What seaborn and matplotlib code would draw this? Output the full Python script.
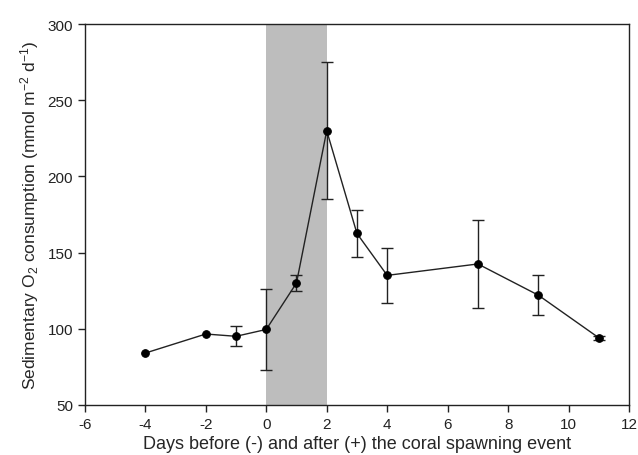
import matplotlib
matplotlib.use("Agg")
import matplotlib.pyplot as plt
import seaborn as sns
import numpy as np
import pandas as pd

# ── Data ────────────────────────────────────────────────────────────────────
days = [-4, -2, -1, 0, 1, 2, 3, 4, 7, 9, 11]
o2_consumption = [84, 96.5, 95, 99.5, 130, 230, 162.5, 135, 142.5, 122, 94]
o2_sd = [0, 0, 6.5, 26.5, 5, 45, 15.5, 18, 29, 13.3, 1.5]
spawning_window = (0, 2)
x_ticks = [-6, -4, -2, 0, 2, 4, 6, 8, 10, 12]
y_ticks = [50, 100, 150, 200, 250, 300]

df = pd.DataFrame({"day": days, "o2": o2_consumption, "sd": o2_sd})

sns.set_theme(style="ticks")
plt.rcParams["font.family"] = ["Liberation Sans", "DejaVu Sans"]
plt.rcParams["mathtext.default"] = "regular"
plt.rcParams["axes.unicode_minus"] = False

fig, ax = plt.subplots(figsize=(6.38, 4.56), dpi=100)
fig.subplots_adjust(left=0.133, right=0.986, bottom=0.11, top=0.945)

ax.axvspan(*spawning_window, color="#bdbdbd", lw=0, zorder=0)

has_err = df["sd"] > 0
ax.errorbar(df.loc[has_err, "day"], df.loc[has_err, "o2"], yerr=df.loc[has_err, "sd"],
            fmt="none", ecolor="#222222", elinewidth=1.0, capsize=4.5, capthick=1.0, zorder=2)
sns.lineplot(data=df, x="day", y="o2", ax=ax, color="#222222", lw=1.0,
             marker="o", markersize=5.5, markerfacecolor="black", markeredgecolor="black",
             zorder=3)

ax.set_xlim(-6, 12)
ax.set_ylim(50, 300)
ax.set_xticks(x_ticks)
ax.set_yticks(y_ticks)
ax.tick_params(axis="both", labelsize=11, direction="out", length=5, width=1,
               colors="#222222", top=False, right=False)
for s in ax.spines.values():
    s.set_linewidth(1.0)
    s.set_color("#222222")

ax.set_xlabel("Days before (-) and after (+) the coral spawning event", fontsize=13, labelpad=3)
ax.set_ylabel("Sedimentary O$_2$ consumption (mmol m$^{-2}$ d$^{-1}$)", fontsize=12.5, labelpad=5)

fig.savefig("out.png", dpi=100)
